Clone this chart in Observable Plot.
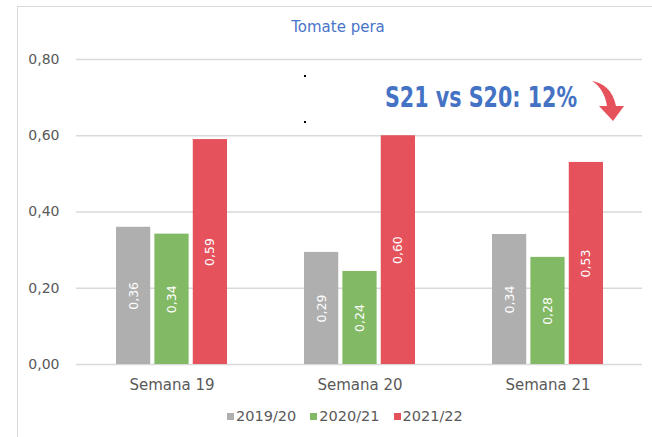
<!DOCTYPE html>
<html>
<head>
<meta charset="utf-8">
<script src="https://cdn.jsdelivr.net/npm/d3@7"></script>
<script src="https://cdn.jsdelivr.net/npm/@observablehq/plot@0.6"></script>
<style>
  html, body { margin: 0; padding: 0; background: #fff; }
  body { width: 652px; height: 437px; overflow: hidden; position: relative; font-family: "DejaVu Sans", sans-serif; }
  #frame { position: absolute; left: 17px; top: 6px; width: 700px; height: 500px; border: 1px solid #d9d9d9; box-sizing: border-box; z-index: 5; pointer-events: none; }
  #title { position: absolute; left: 0; width: 676px; top: 18px; text-align: center; font-size: 15px; color: #4a74c9; }
  #chart { position: absolute; left: 0; top: 0; }
  #legend { position: absolute; top: 408px; left: 227px; display: flex; align-items: center; font-size: 14.5px; color: #595959; white-space: nowrap; }
  #legend .item { display: flex; align-items: center; margin-right: 14px; }
  #legend .sw { width: 7px; height: 7px; margin-right: 2px; }
  #note { position: absolute; left: 385px; top: 84px; font-family: "DejaVu Sans", sans-serif; font-weight: bold; font-size: 28px; color: #4472c4; white-space: nowrap; line-height: 1; transform: scaleX(0.737); transform-origin: 0 0; }
  #arrow { position: absolute; left: 585px; top: 76px; }
  .dot { position: absolute; width: 2px; height: 2px; background: #000; }
</style>
</head>
<body>
<div id="frame"></div>
<div id="title">Tomate pera</div>
<div id="chart"></div>
<div id="note">S21 vs S20: 12%</div>
<svg id="arrow" width="45" height="50" viewBox="0 0 45 50">
  <path d="M7,5 C18,7 28,14 31,30 L39,30 L28,45 L14,30 L22,30 C20,18 15,10 7,5 Z" fill="#e5525c"/>
</svg>
<div class="dot" style="left:304px;top:75px"></div>
<div class="dot" style="left:304px;top:121px"></div>
<div id="legend"></div>
<script>
const weeks = ["Semana 19", "Semana 20", "Semana 21"];
const series = ["2019/20", "2020/21", "2021/22"];
const colors = ["#afafaf", "#82b964", "#e5525c"];
const values2019 = [0.36, 0.294, 0.341];
const values2020 = [0.342, 0.244, 0.281];
const values2021 = [0.59, 0.60, 0.53];
const yTicks = [0, 0.2, 0.4, 0.6, 0.8];

const seriesValues = [values2019, values2020, values2021];
const data = [];
series.forEach((s, i) => weeks.forEach((w, j) => data.push({week: w, series: s, value: seriesValues[i][j]})));

const fmt = d => d.toFixed(2).replace(".", ",");

const W = 652, H = 400, mL = 76, mR = 10, mT = 59, mB = 36;
const pInner = 0.41, pOuter = 0.205;
const step = (W - mL - mR) / (weeks.length - pInner + 2 * pOuter);
const bw = step * (1 - pInner);
const subPad = 0.1;
const subStep = bw / (series.length - subPad);
const barW = subStep * (1 - subPad);

const marks = [
  Plot.ruleY(yTicks, {stroke: "#d9d9d9", strokeWidth: 1.3})
];
series.forEach((s, i) => {
  const rows = data.filter(d => d.series === s);
  const left = i * subStep;
  const right = bw - left - barW;
  marks.push(Plot.barY(rows, {x: "week", y: "value", fill: colors[i], insetLeft: left, insetRight: right}));
  const dx = left + barW / 2 - bw / 2;
  marks.push(Plot.text(rows, {x: "week", y: d => d.value / 2, text: d => fmt(d.value), rotate: -90, dx: dx, fill: "#ffffff", fontSize: 12.5, fontFamily: "DejaVu Sans"}));
});
marks.push(Plot.axisY({ticks: yTicks, tickFormat: fmt, tickSize: 0, tickPadding: 17, fontSize: 14, fill: "#595959", fontFamily: "DejaVu Sans", label: null}));
marks.push(Plot.axisX({tickSize: 0, tickPadding: 15, fontSize: 15, fill: "#595959", fontFamily: "DejaVu Sans", label: null}));

const plot = Plot.plot({
  width: W, height: H,
  marginLeft: mL, marginRight: mR, marginTop: mT, marginBottom: mB,
  style: {background: "transparent", fontFamily: "DejaVu Sans"},
  x: {domain: weeks, paddingInner: pInner, paddingOuter: pOuter, label: null},
  y: {domain: [0, 0.8], label: null},
  marks
});
document.getElementById("chart").appendChild(plot);

const legend = document.getElementById("legend");
series.forEach((s, i) => {
  const item = document.createElement("div");
  item.className = "item";
  const sw = document.createElement("div");
  sw.className = "sw";
  sw.style.background = colors[i];
  const t = document.createElement("span");
  t.textContent = s;
  item.appendChild(sw);
  item.appendChild(t);
  legend.appendChild(item);
});
</script>
</body>
</html>
